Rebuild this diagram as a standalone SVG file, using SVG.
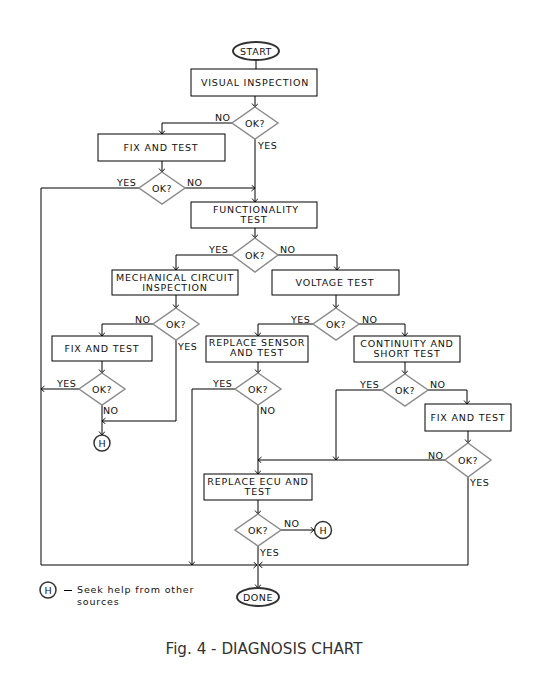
<svg xmlns="http://www.w3.org/2000/svg" width="550" height="700" viewBox="0 0 550 700">
<defs>
<marker id="ah" markerWidth="8" markerHeight="8" refX="4" refY="3" orient="auto" markerUnits="userSpaceOnUse">
<path d="M0.5,0 L4,3 L0.5,6" fill="none" stroke="#000" stroke-width="0.9"/>
</marker>
<style>
rect.box{fill:#fff;stroke:#000;stroke-width:1}
polygon.dia{fill:#fff;stroke:#8c8c8c;stroke-width:1.5}
.term{fill:#fff;stroke:#333;stroke-width:2}
.hc{fill:#fff;stroke:#333;stroke-width:1.5}
text{font-family:"DejaVu Sans",Verdana,sans-serif;font-size:9.5px;fill:#111;letter-spacing:0.8px}
text.c{text-anchor:middle}
text.l{letter-spacing:0.5px}
.conn path{fill:none;stroke:#000;stroke-width:1}
.conn path.a{marker-end:url(#ah)}
text.cap{font-size:15px;fill:#333;letter-spacing:0}
</style>
</defs>
<rect width="550" height="700" fill="#fff"/>

<g id="connectors" class="conn">
<path d="M256,60 V69"/>
<path class="a" d="M255,96 V107"/>
<path class="a" d="M232,123 H162 V134"/>
<path class="a" d="M255,139 V202"/>
<path class="a" d="M162,161 V172"/>
<path class="a" d="M185,188 H255"/>
<path class="a" d="M139,188 H41 V565 H257"/>
<path class="a" d="M255,228 V238"/>
<path class="a" d="M232,255 H176 V270"/>
<path class="a" d="M278,255 H337 V270"/>
<path class="a" d="M176,295 V308"/>
<path class="a" d="M153,324 H102 V336"/>
<path class="a" d="M176,340 V421 H102"/>
<path class="a" d="M102,361 V373"/>
<path class="a" d="M79,389 H41"/>
<path class="a" d="M102,405 V435"/>
<path class="a" d="M336,295 V308"/>
<path class="a" d="M313,324 H258 V336"/>
<path class="a" d="M359,324 H405 V336"/>
<path class="a" d="M258,362 V373"/>
<path class="a" d="M235,389 H192 V565"/>
<path class="a" d="M258,405 V474"/>
<path class="a" d="M405,362 V374"/>
<path class="a" d="M383,390 H336 V460"/>
<path class="a" d="M428,390 H467 V404"/>
<path class="a" d="M468,431 V443"/>
<path class="a" d="M445,460 H258"/>
<path class="a" d="M468,477 V565 H259"/>
<path class="a" d="M258,500 V514"/>
<path class="a" d="M281,530 H314"/>
<path class="a" d="M258,546 V588"/>
</g>

<g id="start"><ellipse class="term" cx="256" cy="51" rx="23" ry="9"/><text class="c l" x="256" y="55">START</text></g>
<g id="visual"><rect class="box" x="191" y="69" width="126" height="27"/><text class="c" x="255" y="86">VISUAL INSPECTION</text></g>
<g id="d1"><polygon class="dia" points="255,107 278,123 255,139 232,123"/><text class="c l" x="255" y="127">OK?</text></g>
<g id="fix1"><rect class="box" x="98" y="134" width="127" height="27"/><text class="c" x="161" y="151">FIX AND TEST</text></g>
<g id="d2"><polygon class="dia" points="162,172 185,188 162,204 139,188"/><text class="c l" x="162" y="192">OK?</text></g>
<g id="func"><rect class="box" x="191" y="202" width="126" height="26"/><text class="c" x="256" y="213">FUNCTIONALITY</text><text class="c" x="254" y="223">TEST</text></g>
<g id="d3"><polygon class="dia" points="255,238 278,255 255,272 232,255"/><text class="c l" x="255" y="259">OK?</text></g>
<g id="mech"><rect class="box" x="112" y="270" width="126" height="25"/><text class="c" x="175" y="281">MECHANICAL CIRCUIT</text><text class="c" x="175" y="291">INSPECTION</text></g>
<g id="volt"><rect class="box" x="272" y="270" width="127" height="25"/><text class="c" x="335" y="286">VOLTAGE TEST</text></g>
<g id="d4"><polygon class="dia" points="176,308 199,324 176,340 153,324"/><text class="c l" x="176" y="328">OK?</text></g>
<g id="fix2"><rect class="box" x="52" y="336" width="100" height="25"/><text class="c" x="102" y="352">FIX AND TEST</text></g>
<g id="d6"><polygon class="dia" points="336,308 359,324 336,340 313,324"/><text class="c l" x="336" y="328">OK?</text></g>
<g id="sensor"><rect class="box" x="206" y="336" width="102" height="26"/><text class="c" x="257" y="346">REPLACE SENSOR</text><text class="c" x="257" y="356">AND TEST</text></g>
<g id="cont"><rect class="box" x="354" y="336" width="106" height="26"/><text class="c" x="407" y="347">CONTINUITY AND</text><text class="c" x="407" y="357">SHORT TEST</text></g>
<g id="d5"><polygon class="dia" points="102,373 125,389 102,405 79,389"/><text class="c l" x="102" y="393">OK?</text></g>
<g id="d7"><polygon class="dia" points="258,373 281,389 258,405 235,389"/><text class="c l" x="258" y="393">OK?</text></g>
<g id="d8"><polygon class="dia" points="405,374 428,390 405,406 382,390"/><text class="c l" x="405" y="394">OK?</text></g>
<g id="h1"><circle class="hc" cx="102" cy="443" r="8"/><text class="c" x="102" y="447" style="letter-spacing:0">H</text></g>
<g id="fix3"><rect class="box" x="425" y="404" width="86" height="27"/><text class="c" x="468" y="421">FIX AND TEST</text></g>
<g id="d9"><polygon class="dia" points="468,443 491,460 468,477 445,460"/><text class="c l" x="468" y="464">OK?</text></g>
<g id="ecu"><rect class="box" x="204" y="474" width="108" height="26"/><text class="c" x="258" y="485">REPLACE ECU AND</text><text class="c" x="258" y="495">TEST</text></g>
<g id="d10"><polygon class="dia" points="258,514 281,530 258,546 235,530"/><text class="c l" x="258" y="534">OK?</text></g>
<g id="h2"><circle class="hc" cx="323" cy="530" r="8.5"/><text class="c" x="323" y="534" style="letter-spacing:0">H</text></g>
<g id="done"><ellipse class="term" cx="258" cy="597" rx="21" ry="9"/><text class="c l" x="258" y="601">DONE</text></g>

<g id="labels">
<text class="l" x="215" y="121">NO</text>
<text class="l" x="258" y="149">YES</text>
<text class="l" x="117" y="186">YES</text>
<text class="l" x="187" y="186">NO</text>
<text class="l" x="209" y="253">YES</text>
<text class="l" x="280" y="253">NO</text>
<text class="l" x="135" y="323">NO</text>
<text class="l" x="178" y="350">YES</text>
<text class="l" x="291" y="323">YES</text>
<text class="l" x="362" y="323">NO</text>
<text class="l" x="57" y="387">YES</text>
<text class="l" x="103" y="414">NO</text>
<text class="l" x="213" y="387">YES</text>
<text class="l" x="260" y="414">NO</text>
<text class="l" x="360" y="388">YES</text>
<text class="l" x="430" y="388">NO</text>
<text class="l" x="428" y="459">NO</text>
<text class="l" x="470" y="486">YES</text>
<text class="l" x="284" y="527">NO</text>
<text class="l" x="260" y="556">YES</text>
</g>

<g id="legend">
<circle class="hc" cx="48" cy="590" r="8"/><text class="c" x="48" y="594" style="letter-spacing:0">H</text>
<path d="M64,590.5 H72" stroke="#000" stroke-width="1"/>
<text x="77" y="593" style="font-size:9.5px;letter-spacing:0.85px">Seek help from other</text>
<text x="77" y="605" style="font-size:9.5px;letter-spacing:0.85px">sources</text>
</g>

<text class="cap c" x="264" y="654" textLength="197" lengthAdjust="spacingAndGlyphs">Fig. 4 - DIAGNOSIS CHART</text>
</svg>
